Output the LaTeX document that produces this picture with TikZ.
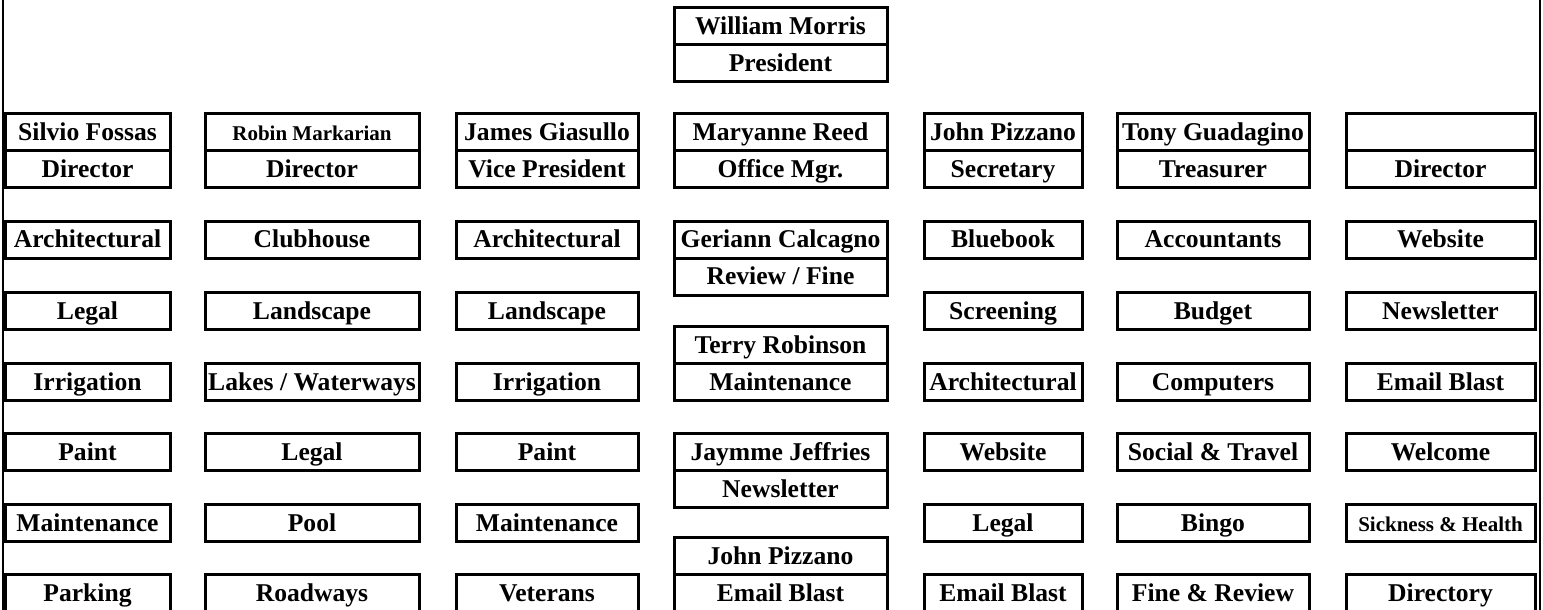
\documentclass[tikz,border=0pt]{standalone}
\usepackage{fontspec}
\setmainfont{Liberation Serif}
\tikzset{
	cell/.style={draw, line width=1.5pt, minimum height=18.5pt, inner sep=0pt, text height=9.6pt, text depth=1.6pt, font=\bfseries\fontsize{12.8}{14}\selectfont},
	smalltext/.style={font=\bfseries\fontsize{10.5}{12}\selectfont},
	colA/.style={minimum width=82.5pt},
	colB/.style={minimum width=107pt},
	colC/.style={minimum width=91pt},
	colD/.style={minimum width=106.5pt},
	colE/.style={minimum width=79pt},
	colF/.style={minimum width=96pt},
	colG/.style={minimum width=94.5pt}
}
\begin{document}
\begin{tikzpicture}[x=0.5pt, y=-0.5pt]
		%%%%% START %%%%%
		\useasboundingbox (0, 0) rectangle (1543, 610);
		
		\draw[line width=0.6pt] (3, 0) -- (3, 610);
		\draw[line width=0.6pt] (1540, 0) -- (1540, 610);
		
		\node[cell, colD] (pres) at (780.5, 26.5) {William Morris};
		\node[cell, colD] (presT) at (780.5, 63.5) {President};
		
		\node[cell, colA] (fossas) at (87.5, 132.5) {Silvio Fossas};
		\node[cell, colA] (fossasT) at (87.5, 169.5) {Director};
		\node[cell, colB, smalltext] (markarian) at (312, 132.5) {Robin Markarian};
		\node[cell, colB] (markarianT) at (312, 169.5) {Director};
		\node[cell, colC] (giasullo) at (547, 132.5) {James Giasullo};
		\node[cell, colC] (giasulloT) at (547, 169.5) {Vice President};
		\node[cell, colD] (reed) at (780.5, 132.5) {Maryanne Reed};
		\node[cell, colD] (reedT) at (780.5, 169.5) {Office Mgr.};
		\node[cell, colE] (pizzano) at (1003, 132.5) {John Pizzano};
		\node[cell, colE] (pizzanoT) at (1003, 169.5) {Secretary};
		\node[cell, colF] (guadagino) at (1213, 132.5) {Tony Guadagino};
		\node[cell, colF] (guadaginoT) at (1213, 169.5) {Treasurer};
		\node[cell, colG] (vacant) at (1440.5, 132.5) {};
		\node[cell, colG] (vacantT) at (1440.5, 169.5) {Director};
		
		% column 1
		\node[cell, colA] (a1) at (87.5, 240) {Architectural};
		\node[cell, colA] (a2) at (87.5, 311) {Legal};
		\node[cell, colA] (a3) at (87.5, 382) {Irrigation};
		\node[cell, colA] (a4) at (87.5, 452) {Paint};
		\node[cell, colA] (a5) at (87.5, 523) {Maintenance};
		\node[cell, colA] (a6) at (87.5, 593) {Parking};
		
		% column 2
		\node[cell, colB] (b1) at (312, 240) {Clubhouse};
		\node[cell, colB] (b2) at (312, 311) {Landscape};
		\node[cell, colB] (b3) at (312, 382) {Lakes / Waterways};
		\node[cell, colB] (b4) at (312, 452) {Legal};
		\node[cell, colB] (b5) at (312, 523) {Pool};
		\node[cell, colB] (b6) at (312, 593) {Roadways};
		
		% column 3
		\node[cell, colC] (c1) at (547, 240) {Architectural};
		\node[cell, colC] (c2) at (547, 311) {Landscape};
		\node[cell, colC] (c3) at (547, 382) {Irrigation};
		\node[cell, colC] (c4) at (547, 452) {Paint};
		\node[cell, colC] (c5) at (547, 523) {Maintenance};
		\node[cell, colC] (c6) at (547, 593) {Veterans};
		
		% column 4
		\node[cell, colD] (calcagno) at (780.5, 240) {Geriann Calcagno};
		\node[cell, colD] (calcagnoT) at (780.5, 277) {Review / Fine};
		\node[cell, colD] (robinson) at (780.5, 345) {Terry Robinson};
		\node[cell, colD] (robinsonT) at (780.5, 382) {Maintenance};
		\node[cell, colD] (jeffries) at (780.5, 452) {Jaymme Jeffries};
		\node[cell, colD] (jeffriesT) at (780.5, 489) {Newsletter};
		\node[cell, colD] (pizzano2) at (780.5, 556) {John Pizzano};
		\node[cell, colD] (pizzano2T) at (780.5, 593) {Email Blast};
		
		% column 5
		\node[cell, colE] (e1) at (1003, 240) {Bluebook};
		\node[cell, colE] (e2) at (1003, 311) {Screening};
		\node[cell, colE] (e3) at (1003, 382) {Architectural};
		\node[cell, colE] (e4) at (1003, 452) {Website};
		\node[cell, colE] (e5) at (1003, 523) {Legal};
		\node[cell, colE] (e6) at (1003, 593) {Email Blast};
		
		% column 6
		\node[cell, colF] (f1) at (1213, 240) {Accountants};
		\node[cell, colF] (f2) at (1213, 311) {Budget};
		\node[cell, colF] (f3) at (1213, 382) {Computers};
		\node[cell, colF] (f4) at (1213, 452) {Social \& Travel};
		\node[cell, colF] (f5) at (1213, 523) {Bingo};
		\node[cell, colF] (f6) at (1213, 593) {Fine \& Review};
		
		% column 7
		\node[cell, colG] (g1) at (1440.5, 240) {Website};
		\node[cell, colG] (g2) at (1440.5, 311) {Newsletter};
		\node[cell, colG] (g3) at (1440.5, 382) {Email Blast};
		\node[cell, colG] (g4) at (1440.5, 452) {Welcome};
		\node[cell, colG, smalltext] (g5) at (1440.5, 523) {Sickness \& Health};
		\node[cell, colG] (g6) at (1440.5, 593) {Directory};
		
		%%%%% END %%%%%
	\end{tikzpicture}
\end{document}
